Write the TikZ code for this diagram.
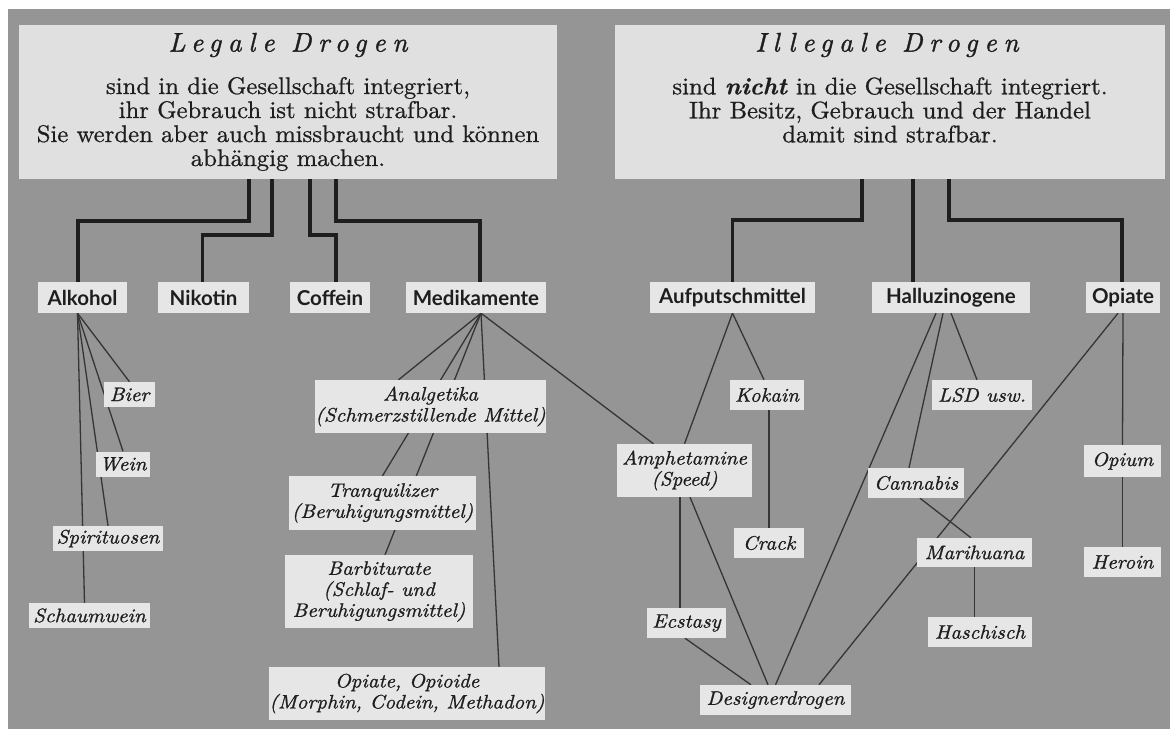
\documentclass[tikz,border=0pt]{standalone}
\usepackage{fontspec}
\setmainfont{lmroman10}[Extension=.otf,UprightFont=*-regular,ItalicFont=*-italic,BoldFont=*-bold,BoldItalicFont=*-bolditalic]
\newfontfamily\catfont{Lato}
\definecolor{bggray}{HTML}{959595}
\definecolor{boxfill}{HTML}{E6E6E6}
\definecolor{hdrfill}{HTML}{E0E0E0}
\definecolor{ink}{HTML}{1E1E1E}
\pgfdeclarelayer{bglayer}
\pgfdeclarelayer{linelayer}
\pgfsetlayers{bglayer,linelayer,main}
\begin{document}
\begin{tikzpicture}[x=1pt,y=-1pt,
  hdrbox/.style={fill=hdrfill,inner sep=0pt},
  hdrtitle/.style={text=ink,inner sep=0pt,font=\fontsize{27}{30}\selectfont\itshape\addfontfeature{LetterSpace=25,FakeBold=1.2}},
  hdrbody/.style={text=ink,inner sep=0pt,align=center,font=\fontsize{24}{24}\selectfont\addfontfeature{FakeStretch=1.03,FakeBold=0.8}},
  catbox/.style={fill=boxfill,inner sep=0pt,minimum height=31pt,text=ink,font=\catfont\bfseries\fontsize{20.5}{22}\selectfont},
  subbox/.style={fill=boxfill,inner sep=0pt,align=center,text=ink,font=\fontsize{19.5}{21}\selectfont\itshape\addfontfeature{FakeStretch=1.07,FakeBold=1}},
  trunk/.style={draw=ink,line width=3.8pt,line join=miter},
  twig/.style={draw=ink!90,line width=1.3pt}
]
\useasboundingbox (0,0) rectangle (1170,729);
\begin{pgfonlayer}{bglayer}
  \fill[white] (0,0) rectangle (1170,729);
  \fill[bggray] (8,9) rectangle (1170,729);
\end{pgfonlayer}

% header boxes
\node[hdrbox,minimum width=538pt,minimum height=154pt] (legal) at (288,102) {};
\node[hdrtitle] (legaltitle) at (288,45) {Legale Drogen};
\node[hdrbody] (legalbody) at (288,124) {sind in die Gesellschaft integriert,\\ihr Gebrauch ist nicht strafbar.\\Sie werden aber auch missbraucht und können\\abhängig machen.};

\node[hdrbox,minimum width=550pt,minimum height=154pt] (illegal) at (890,102) {};
\node[hdrtitle] (illegaltitle) at (887,45) {Illegale Drogen};
\node[hdrbody] (illegalbody) at (890,110) {sind \textbf{\textit{nicht}} in die Gesellschaft integriert.\\Ihr Besitz, Gebrauch und der Handel\\damit sind strafbar.};

% categories
\node[catbox,minimum width=89pt]  (alk) at (82.5,297.5) {Alkohol};
\node[catbox,minimum width=91pt]  (nik) at (203.5,297.5) {Nikotin};
\node[catbox,minimum width=80pt]  (cof) at (330,297.5) {Coffein};
\node[catbox,minimum width=140pt] (med) at (476,297.5) {Medikamente};
\node[catbox,minimum width=165pt] (auf) at (732.5,297.5) {Aufputschmittel};
\node[catbox,minimum width=158pt] (hal) at (951,297.5) {Halluzinogene};
\node[catbox,minimum width=74pt]  (opi) at (1123,297.5) {Opiate};

% legal sub items
\node[subbox,minimum width=51pt,minimum height=25pt]  (bier) at (129.5,394.5) {Bier};
\node[subbox,minimum width=54pt,minimum height=25pt]  (wein) at (123,464) {Wein};
\node[subbox,minimum width=110pt,minimum height=25pt] (spir) at (108,538.5) {Spirituosen};
\node[subbox,minimum width=121pt,minimum height=25pt] (schaum) at (89.5,615.5) {Schaumwein};
\node[subbox,minimum width=231pt,minimum height=53pt] (ana) at (430.5,406.5) {Analgetika\\(Schmerzstillende Mittel)};
\node[subbox,minimum width=187pt,minimum height=54pt] (tran) at (382.5,503) {Tranquilizer\\(Beruhigungsmittel)};
\node[subbox,minimum width=188pt,minimum height=73pt] (barb) at (379,591.5) {Barbiturate\\(Schlaf- und\\Beruhigungsmittel)};
\node[subbox,minimum width=276pt,minimum height=53pt] (opio) at (407,693.5) {Opiate, Opioide\\(Morphin, Codein, Methadon)};

% illegal sub items
\node[subbox,minimum width=74pt,minimum height=30pt]  (kok) at (767,395) {Kokain};
\node[subbox,minimum width=100pt,minimum height=30pt] (lsd) at (982,395) {LSD usw.};
\node[subbox,minimum width=77pt,minimum height=32pt]  (opium) at (1122.5,461) {Opium};
\node[subbox,minimum width=135pt,minimum height=53pt] (amph) at (684.5,470.5) {Amphetamine\\(Speed)};
\node[subbox,minimum width=96pt,minimum height=30pt]  (can) at (916,483) {Cannabis};
\node[subbox,minimum width=70pt,minimum height=30pt]  (crack) at (769,543) {Crack};
\node[subbox,minimum width=115pt,minimum height=29pt] (mari) at (974.5,552.5) {Marihuana};
\node[subbox,minimum width=77pt,minimum height=30pt]  (heroin) at (1122.5,562) {Heroin};
\node[subbox,minimum width=79pt,minimum height=30pt]  (ecst) at (686.5,623) {Ecstasy};
\node[subbox,minimum width=104pt,minimum height=30pt] (hasch) at (980,632) {Haschisch};
\node[subbox,minimum width=151pt,minimum height=30pt] (design) at (775.5,700) {Designerdrogen};

\begin{pgfonlayer}{linelayer}
  % legal trunks
  \draw[trunk] ([xshift=-39pt]legal.south) -- ++(0,42) -| ([xshift=-4.5pt]alk.north);
  \draw[trunk] ([xshift=-16pt]legal.south) -- ++(0,56) -| ([xshift=-1pt]nik.north);
  \draw[trunk] ([xshift=22pt]legal.south) -- ++(0,56) -| ([xshift=6pt]cof.north);
  \draw[trunk] ([xshift=48pt]legal.south) -- ++(0,42) -| ([xshift=4pt]med.north);
  % illegal trunks
  \draw[trunk] ([xshift=-28pt]illegal.south) -- ++(0,41) -| (auf.north);
  \draw[trunk] ([xshift=23pt]illegal.south) -- ([xshift=-38pt]hal.north);
  \draw[trunk] ([xshift=59pt]illegal.south) -- ++(0,41) -| ([xshift=-1pt]opi.north);
  % Alkohol
  \draw[twig] ([xshift=-5pt]alk.south) -- (bier.north);
  \draw[twig] ([xshift=-5pt]alk.south) -- (wein.north);
  \draw[twig] ([xshift=-5pt]alk.south) -- (spir.north);
  \draw[twig] ([xshift=-5pt]alk.south) -- ([xshift=-5pt]schaum.north);
  % Medikamente
  \draw[twig] ([xshift=5pt]med.south) -- ([xshift=-32pt]ana.north);
  \draw[twig] ([xshift=5pt]med.south) -- (tran.north);
  \draw[twig] ([xshift=5pt]med.south) -- ([xshift=6pt]barb.north);
  \draw[twig] ([xshift=5pt]med.south) -- ([xshift=92pt]opio.north);
  \draw[twig] ([xshift=5pt]med.south) -- ([xshift=-31pt]amph.north);
  % Aufputschmittel
  \draw[twig] (auf.south) -- (amph.north);
  \draw[twig] (auf.south) -- ([xshift=-3pt]kok.north);
  \draw[twig] ([xshift=2pt]kok.south) -- (crack.north);
  \draw[twig] ([xshift=-4.5pt]amph.south) -- ([xshift=-4.5pt]amph.south |- ecst.north);
  \draw[twig] ([xshift=5.5pt]amph.south) -- ([xshift=-7.5pt]design.north);
  \draw[twig] ([xshift=-1.5pt]ecst.south) -- ([xshift=-24.5pt]design.north);
  % Halluzinogene
  \draw[twig] (hal.south) -- ([xshift=-5pt]lsd.north);
  \draw[twig] ([xshift=-8pt]hal.south) -- ([xshift=-7pt]can.north);
  \draw[twig] ([xshift=-15pt]hal.south) -- (design.north);
  \draw[twig] ([xshift=4pt]can.south) -- ([xshift=-3.5pt]mari.north);
  \draw[twig] (mari.south) -- (mari.south |- hasch.north);
  % Opiate
  \draw[twig] (opi.south) -- (opium.north);
  \draw[twig] (opium.south) -- (heroin.north);
  \draw[twig] ([xshift=-5pt]opi.south) -- ([xshift=43.5pt]design.north);
\end{pgfonlayer}
\end{tikzpicture}
\end{document}
